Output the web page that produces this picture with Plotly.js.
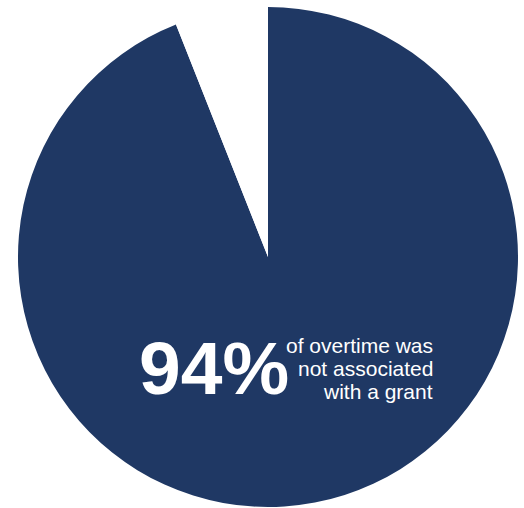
<!DOCTYPE html>
<html>
<head>
<meta charset="utf-8">
<script src="https://cdn.plot.ly/plotly-3.0.1.min.js"></script>
<style>html,body{margin:0;padding:0;background:#fff;}#chart{width:524px;height:508px;}</style>
</head>
<body>
<div id="chart"></div>
<script>
const labels = ["Not associated with a grant", "Associated with a grant"];
const values = [94, 6];
const sliceColors = ["#1F3864", "#FFFFFF"];
const bigLabel = "94%";
const noteLines = ["of overtime was", "not associated", "with a grant"];

const W = 524, H = 508;
const px = x => x / W;
const py = y => 1 - y / H;

const trace = {
  type: "pie",
  labels: labels,
  values: values,
  sort: false,
  direction: "clockwise",
  rotation: 0,
  marker: { colors: sliceColors, line: { width: 0 } },
  textinfo: "none",
  hoverinfo: "label+percent",
  domain: { x: [px(18), px(518)], y: [py(507), py(7)] },
  showlegend: false
};

const annotations = [
  { text: "<b>" + bigLabel + "</b>", x: px(290), y: py(368), xanchor: "right", yanchor: "middle",
    font: { family: "Liberation Sans, Arial, sans-serif", size: 75, color: "#FFFFFF" } }
];
const lineY = [345, 368, 391];
noteLines.forEach((t, i) => {
  annotations.push({ text: t, x: px(434), y: py(lineY[i]), xanchor: "right", yanchor: "middle",
    font: { family: "Liberation Sans, Arial, sans-serif", size: 21, color: "#FFFFFF" } });
});
annotations.forEach(a => { a.xref = "paper"; a.yref = "paper"; a.showarrow = false; a.borderpad = 0; });

const layout = {
  width: W, height: H,
  margin: { l: 0, r: 0, t: 0, b: 0, pad: 0 },
  paper_bgcolor: "#FFFFFF",
  plot_bgcolor: "#FFFFFF",
  annotations: annotations
};

Plotly.newPlot("chart", [trace], layout, { displayModeBar: false, staticPlot: true });
</script>
</body>
</html>
